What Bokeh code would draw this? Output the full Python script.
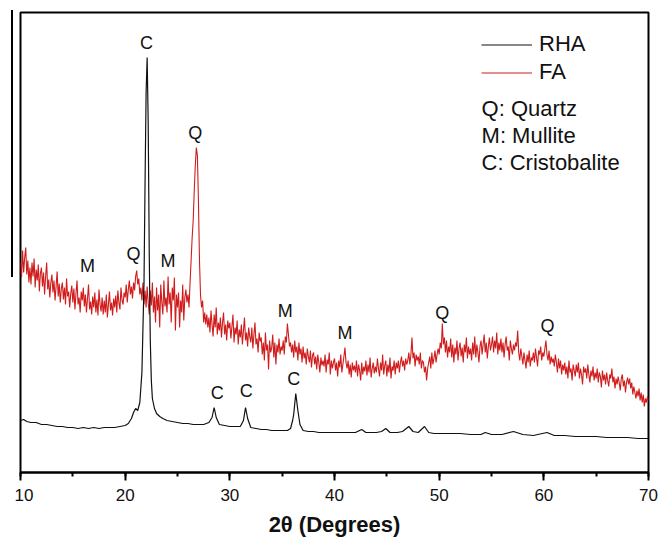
from bokeh.plotting import figure
from bokeh.models import (Legend, LegendItem, Label, SingleIntervalTicker, Range1d, Div)
from bokeh.layouts import row
from bokeh.embed import file_html
from bokeh.resources import INLINE
import numpy as np

# ---------------- data ----------------
# FA (fly ash) pattern, scan 10-70 deg, step 0.1 deg (intensity, arb. units)
fa_two_theta = np.round(np.arange(10.0, 70.05, 0.1), 1)
fa_intensity = [
    210, 195, 222, 200, 215, 225, 198, 212, 190, 205,   # 10
    188, 210, 196, 214, 185, 203, 192, 208, 181, 199,   # 11
    205, 186, 200, 178, 196, 210, 183, 193, 175, 190,   # 12
    198, 180, 192, 172, 186, 201, 176, 189, 170, 184,   # 13
    190, 173, 185, 168, 194, 176, 181, 165, 179, 187,   # 14
    170, 184, 163, 179, 192, 168, 175, 160, 181, 172,   # 15
    185, 166, 178, 160, 174, 188, 163, 171, 158, 176,   # 16
    165, 180, 160, 173, 157, 183, 168, 161, 175, 158,   # 17
    172, 160, 178, 155, 168, 181, 162, 170, 157, 174,   # 18
    165, 177, 160, 182, 170, 163, 185, 172, 168, 180,   # 19
    175, 188, 170, 183, 192, 178, 186, 174, 190, 182,   # 20
    196, 202, 188, 194, 178, 185, 172, 190, 168, 182,   # 21
    165, 186, 170, 158, 182, 167, 190, 160, 176, 150,   # 22
    185, 162, 178, 145, 188, 170, 158, 192, 166, 175,   # 23
    160, 196, 168, 180, 150, 185, 172, 195, 142, 178,   # 24
    165, 180, 145, 172, 160, 188, 152, 175, 183, 170,   # 25
    178, 165, 190, 212, 235, 252, 282, 307, 325, 317,   # 26
    272, 212, 177, 165, 172, 150, 160, 148, 158, 145,   # 27
    155, 140, 162, 148, 136, 158, 145, 165, 138, 150,   # 28
    142, 155, 135, 150, 160, 138, 148, 132, 152, 144,   # 29
    150, 134, 146, 158, 130, 145, 138, 152, 128, 143,   # 30
    135, 148, 128, 142, 155, 132, 140, 126, 145, 136,   # 31
    130, 145, 124, 138, 150, 128, 134, 120, 140, 131,   # 32
    135, 118, 130, 112, 140, 122, 128, 103, 132, 120,   # 33
    125, 138, 115, 130, 108, 128, 120, 134, 118, 126,   # 34
    122, 132, 118, 136, 130, 149, 138, 126, 130, 120,   # 35
    128, 115, 132, 120, 126, 112, 130, 118, 124, 110,   # 36
    126, 114, 120, 108, 124, 116, 110, 122, 105, 117,   # 37
    120, 108, 116, 103, 118, 110, 100, 115, 107, 112,   # 38
    106, 118, 100, 113, 108, 120, 98, 112, 104, 110,    # 39
    114, 102, 110, 96, 112, 105, 118, 100, 108, 116,    # 40
    125, 110, 104, 112, 98, 108, 95, 110, 102, 107,     # 41
    100, 112, 96, 108, 102, 92, 110, 98, 106, 101,      # 42
    112, 97, 108, 100, 115, 95, 104, 110, 99, 106,      # 43
    100, 114, 104, 96, 110, 102, 118, 98, 107, 112,     # 44
    96, 108, 100, 115, 94, 106, 102, 112, 98, 110,      # 45
    104, 112, 100, 110, 116, 106, 112, 102, 114, 108,   # 46
    112, 120, 108, 118, 135, 114, 120, 106, 118, 112,   # 47
    116, 108, 120, 104, 112, 110, 100, 106, 92, 104,    # 48
    110, 116, 104, 120, 108, 114, 122, 110, 118, 124,   # 49
    118, 130, 124, 149, 128, 135, 120, 132, 115, 126,   # 50
    120, 134, 115, 128, 110, 125, 118, 132, 112, 124,   # 51
    130, 116, 125, 110, 128, 120, 135, 114, 126, 118,   # 52
    124, 112, 130, 118, 136, 115, 128, 120, 110, 126,   # 53
    132, 118, 128, 138, 120, 130, 114, 126, 135, 122,   # 54
    128, 136, 120, 132, 124, 140, 118, 130, 122, 134,   # 55
    120, 130, 115, 128, 136, 122, 126, 112, 132, 124,   # 56
    118, 128, 122, 130, 126, 142, 120, 112, 124, 116,   # 57
    108, 120, 112, 104, 118, 110, 122, 106, 115, 112,   # 58
    120, 110, 124, 115, 106, 122, 118, 126, 112, 120,   # 59
    116, 124, 132, 118, 112, 122, 108, 116, 110, 114,   # 60
    106, 118, 110, 100, 114, 104, 112, 98, 108, 102,    # 61
    110, 98, 106, 94, 112, 100, 104, 92, 108, 102,      # 62
    96, 108, 100, 110, 94, 104, 98, 88, 106, 100,       # 63
    104, 94, 108, 98, 90, 102, 96, 106, 92, 100,        # 64
    94, 104, 90, 100, 96, 85, 102, 92, 98, 88,          # 65
    100, 92, 86, 98, 94, 104, 90, 96, 84, 94,           # 66
    88, 96, 90, 82, 94, 98, 86, 92, 80, 90,             # 67
    95, 88, 94, 84, 90, 78, 86, 80, 74, 82,             # 68
    76, 84, 72, 80, 70, 78, 66, 74, 70, 76,             # 69
    72,                                                 # 70
]

# RHA (rice husk ash) pattern
rha_two_theta = [
    10.0, 10.3, 10.6, 11.0, 11.5, 12.0, 12.5, 13.0, 13.5, 14.0, 14.5, 15.0, 15.5,
    16.0, 16.5, 17.0, 17.5, 18.0, 18.5, 19.0, 19.5, 20.0, 20.3, 20.6, 20.8, 21.0,
    21.2, 21.4, 21.6, 21.8, 21.9, 22.0, 22.1, 22.2, 22.3, 22.4, 22.5, 22.6, 22.8,
    23.0, 23.3, 23.6, 24.0, 24.5, 25.0, 25.5, 26.0, 26.5, 27.0, 27.5, 28.0, 28.3,
    28.5, 28.7, 29.0, 29.5, 30.0, 30.5, 31.0, 31.3, 31.5, 31.7, 32.0, 32.5, 33.0,
    33.5, 34.0, 34.5, 35.0, 35.5, 35.8, 36.0, 36.1, 36.3, 36.5, 36.7, 37.0, 37.5,
    38.0, 38.5, 39.0, 39.5, 40.0, 40.5, 41.0, 41.5, 42.0, 42.6, 43.0, 43.5, 44.0,
    44.5, 44.9, 45.3, 46.0, 46.5, 47.1, 47.5, 48.0, 48.6, 49.0, 49.5, 50.0, 51.0,
    52.0, 53.0, 54.0, 54.4, 55.0, 56.0, 57.1, 58.0, 59.0, 60.3, 61.0, 62.0, 63.0,
    64.0, 65.0, 66.0, 67.0, 68.0, 69.0, 70.0,
]
rha_intensity = [
    52, 53, 51, 50, 50, 48, 48, 47, 46, 46, 45, 45, 44,
    45, 44, 45, 44, 45, 45, 45, 46, 47, 49, 54, 60, 64,
    62, 70, 100, 190, 290, 380, 415, 350, 220, 132, 92, 74, 64,
    59, 56, 54, 52, 51, 50, 49, 49, 48, 48, 48, 50, 55,
    65, 55, 48, 47, 46, 46, 46, 52, 65, 54, 45, 44, 43,
    43, 42, 42, 42, 42, 44, 52, 58, 79, 62, 48, 42, 41,
    41, 40, 40, 40, 40, 40, 40, 40, 40, 43, 40, 40, 40,
    41, 44, 40, 40, 41, 46, 41, 40, 46, 40, 39, 39, 39,
    39, 38, 38, 40, 38, 38, 41, 38, 37, 40, 37, 37, 36,
    36, 36, 35, 35, 35, 34, 34,
]

# phase labels (text, 2theta, intensity)
peak_text = ["C", "Q", "Q", "M", "M", "M", "M", "Q", "Q", "C", "C", "C"]
peak_x = [22.05, 26.7, 20.8, 16.4, 24.1, 35.3, 41.0, 50.3, 60.35, 28.8, 31.56, 36.1]
peak_y = [430, 340, 219, 207, 212, 162, 140, 160, 147, 80, 82, 94]

key_text = ["Q: Quartz", "M: Mullite", "C: Cristobalite"]
key_x = [54.05, 54.05, 54.05]
key_y = [364, 337, 310]

FONT = "Liberation Sans"

# ---------------- figure ----------------
p = figure(frame_width=628, frame_height=460, output_backend="svg",
           toolbar_location=None, x_range=Range1d(10, 70), y_range=Range1d(0, 460),
           min_border_left=6, min_border_right=13, min_border_top=12, min_border_bottom=66,
           margin=0)
p.background_fill_color = "white"
p.border_fill_color = "white"
p.grid.visible = False
p.yaxis.visible = False
p.outline_line_color = "black"
p.outline_line_width = 2
p.outline_line_alpha = 1

fa_r = p.line(fa_two_theta, fa_intensity, line_color="#d01c1c", line_width=1.1)
rha_r = p.line(rha_two_theta, rha_intensity, line_color="#111111", line_width=1.2)

ax = p.xaxis[0]
ax.ticker = SingleIntervalTicker(interval=10, num_minor_ticks=2)
ax.axis_line_width = 2
ax.axis_line_color = "black"
ax.major_tick_line_width = 2
ax.major_tick_out = 8
ax.major_tick_in = 0
ax.minor_tick_line_width = 2
ax.minor_tick_out = 4
ax.minor_tick_in = 0
ax.major_label_text_font = FONT
ax.major_label_text_font_size = "17px"
ax.major_label_text_color = "#111111"
ax.major_label_standoff = 8
ax.axis_label = "2θ (Degrees)"
ax.axis_label_text_font = FONT
ax.axis_label_text_font_size = "22px"
ax.axis_label_text_font_style = "bold"
ax.axis_label_text_color = "#111111"
ax.axis_label_standoff = 8

for t, x, y in zip(peak_text, peak_x, peak_y):
    p.add_layout(Label(x=x, y=y, text=t, text_font=FONT, text_font_size="18px",
                       text_color="#111111", text_align="center",
                       text_baseline="middle"))

for t, x, y in zip(key_text, key_x, key_y):
    p.add_layout(Label(x=x, y=y, text=t, text_font=FONT, text_font_size="22px",
                       text_color="#111111", text_align="left",
                       text_baseline="middle"))

legend = Legend(items=[LegendItem(label="RHA", renderers=[rha_r]),
                       LegendItem(label="FA", renderers=[fa_r])],
                location=(461, 387), glyph_width=51, glyph_height=25,
                label_height=25, label_standoff=7, spacing=2, padding=0,
                margin=0, border_line_color=None, background_fill_alpha=0,
                label_text_font=FONT, label_text_font_size="22px",
                label_text_color="#111111")
p.add_layout(legend)

# stray vertical rule left of the frame (as in the source image)
rule = Div(width=14, height=300, margin=0,
           text='<div style="position:absolute;left:11px;top:10px;width:2px;'
                'height:267px;background:#000"></div>',
           styles={"position": "relative"})

layout = row(rule, p, spacing=0, margin=0)

open("out.html", "w").write(file_html(layout, INLINE))
